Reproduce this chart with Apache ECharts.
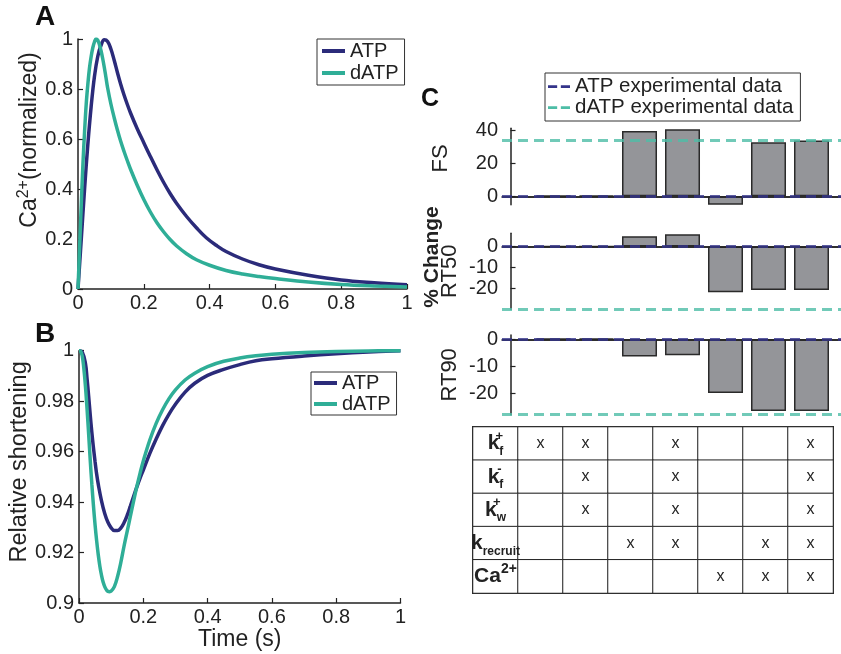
<!DOCTYPE html>
<html><head><meta charset="utf-8">
<script src="https://cdn.jsdelivr.net/npm/echarts@6/dist/echarts.min.js"></script>
<style>html,body{margin:0;padding:0;background:#fff}#c{width:841px;height:654px}</style>
</head><body><div id="c"></div>
<script>
// ---------------- data ----------------
// Panel A: normalized Ca2+ transients
const caTimeATP = [0, 0.005, 0.01, 0.02, 0.03, 0.04, 0.05, 0.06, 0.07, 0.08, 0.09, 0.1, 0.11, 0.12, 0.13, 0.14, 0.15, 0.16, 0.18, 0.2, 0.22, 0.24, 0.26, 0.28, 0.3, 0.33, 0.36, 0.39, 0.42, 0.45, 0.5, 0.55, 0.6, 0.7, 0.8, 0.9, 1.0];
const caATP     = [0, 0.1, 0.2, 0.4, 0.58, 0.73, 0.85, 0.93, 0.975, 0.997, 0.99, 0.96, 0.915, 0.865, 0.818, 0.776, 0.738, 0.703, 0.641, 0.585, 0.53, 0.477, 0.427, 0.382, 0.342, 0.29, 0.245, 0.205, 0.175, 0.15, 0.12, 0.097, 0.08, 0.055, 0.036, 0.025, 0.017];
const caTimeDATP = [0, 0.005, 0.01, 0.015, 0.02, 0.025, 0.03, 0.035, 0.04, 0.045, 0.05, 0.055, 0.06, 0.065, 0.07, 0.075, 0.08, 0.085, 0.09, 0.1, 0.11, 0.12, 0.13, 0.14, 0.15, 0.16, 0.18, 0.2, 0.22, 0.24, 0.26, 0.28, 0.3, 0.33, 0.36, 0.4, 0.45, 0.5, 0.55, 0.6, 0.7, 0.8, 0.9, 1.0];
const caDATP     = [0, 0.17, 0.34, 0.5, 0.63, 0.74, 0.82, 0.885, 0.93, 0.965, 0.988, 1.0, 0.995, 0.978, 0.953, 0.922, 0.886, 0.846, 0.805, 0.74, 0.685, 0.635, 0.59, 0.55, 0.513, 0.478, 0.415, 0.358, 0.308, 0.265, 0.229, 0.198, 0.172, 0.141, 0.117, 0.095, 0.074, 0.06, 0.05, 0.042, 0.028, 0.018, 0.012, 0.008];
// Panel B: relative shortening
const slTimeATP = [0, 0.01, 0.02, 0.025, 0.03, 0.035, 0.04, 0.045, 0.05, 0.055, 0.06, 0.07, 0.08, 0.09, 0.1, 0.11, 0.12, 0.13, 0.14, 0.15, 0.16, 0.17, 0.18, 0.19, 0.2, 0.22, 0.24, 0.26, 0.28, 0.3, 0.33, 0.36, 0.4, 0.45, 0.5, 0.55, 0.6, 0.7, 0.8, 0.9, 1.0];
const slATP     = [1.0, 0.9995, 0.995, 0.989, 0.982, 0.9745, 0.9675, 0.9615, 0.956, 0.951, 0.947, 0.9405, 0.9355, 0.932, 0.9298, 0.9287, 0.9287, 0.9297, 0.9318, 0.9348, 0.9385, 0.9423, 0.946, 0.9495, 0.9527, 0.9592, 0.965, 0.9703, 0.9749, 0.9788, 0.9836, 0.9871, 0.9902, 0.9926, 0.9945, 0.996, 0.9968, 0.9979, 0.9988, 0.9995, 1.0];
const slTimeDATP = [0, 0.005, 0.01, 0.015, 0.02, 0.025, 0.03, 0.035, 0.04, 0.045, 0.05, 0.055, 0.06, 0.065, 0.07, 0.075, 0.08, 0.085, 0.09, 0.095, 0.1, 0.11, 0.12, 0.13, 0.14, 0.15, 0.16, 0.17, 0.18, 0.19, 0.2, 0.22, 0.24, 0.26, 0.28, 0.3, 0.33, 0.36, 0.4, 0.45, 0.5, 0.55, 0.6, 0.7, 0.8, 0.9, 1.0];
const slDATP     = [1.0, 0.9998, 0.998, 0.993, 0.986, 0.977, 0.967, 0.9565, 0.947, 0.9385, 0.931, 0.9245, 0.919, 0.9145, 0.911, 0.9083, 0.9065, 0.9053, 0.9046, 0.9045, 0.9047, 0.9065, 0.9105, 0.916, 0.9225, 0.9285, 0.9345, 0.9405, 0.9462, 0.9515, 0.9563, 0.9645, 0.9712, 0.9766, 0.981, 0.9845, 0.9884, 0.9911, 0.9937, 0.9958, 0.9971, 0.998, 0.9986, 0.9993, 0.9997, 0.9999, 1.0];
const ticksAB_x = [0, 0.2, 0.4, 0.6, 0.8, 1];
const ticksB_y = [0.9, 0.92, 0.94, 0.96, 0.98, 1];
// Panel C: % change
const barPositions = [1, 2, 3, 4, 5, 6, 7];
const fsChange   = [0.5, 0.5, 39.8, 40.8, -5.1, 32.9, 33.9];
const rt50Change = [0, 0, 4.9, 5.9, -21.7, -20.6, -20.6];
const rt90Change = [0.3, 0.3, -6.4, -5.9, -19.9, -26.5, -26.5];
const expATP  = [0, 0, 0];          // FS, RT50, RT90
const expDATP = [34.1, -29.8, -27.9];
const ticksFS = [0, 20, 40];
const ticksRT = [-20, -10, 0];
// Table
const paramBase = ['k', 'k', 'k', 'k', 'Ca'];
const paramSub  = ['f', 'f', 'w', 'recruit', ''];
const paramSup  = ['+', '-', '+', '', '2+'];
const paramUsed = [
  [1, 1, 0, 1, 0, 0, 1],
  [0, 1, 0, 1, 0, 0, 1],
  [0, 1, 0, 1, 0, 0, 1],
  [0, 0, 1, 1, 0, 1, 1],
  [0, 0, 0, 0, 1, 1, 1]
];

// ---------------- styling ----------------
const FONT = 'Liberation Sans, Arial, Helvetica, sans-serif';
const INK = '#222222';
const C_ATP = '#2b2b7a';
const C_DATP = '#2fae97';
const zip = (a, b) => a.map((v, i) => [v, b[i]]);

const axisLineS = { show: true, lineStyle: { color: INK, width: 1.5 } };
const tickS = (vals) => ({ show: true, inside: true, length: 5, lineStyle: { color: INK, width: 1.2 }, customValues: vals });
const labelS = (vals, margin) => ({ show: true, fontSize: 20, color: INK, fontFamily: FONT, margin: margin, customValues: vals });

const cX = { type: 'value', min: -0.198, max: 7.686, axisLine: axisLineS, axisTick: { show: false }, axisLabel: { show: false }, splitLine: { show: false } };

function barSeries(idx, vals) {
  return {
    type: 'bar', xAxisIndex: idx, yAxisIndex: idx, data: zip(barPositions, vals), barWidth: 35,
    itemStyle: { color: '#949599', borderColor: '#2a2a2a', borderWidth: 1.5 },
    emphasis: { disabled: true }, z: 2,
    markLine: { symbol: 'none', silent: true, animation: false, label: { show: false },
      lineStyle: { color: INK, type: 'solid', width: 1.5 }, data: [{ yAxis: 0 }] }
  };
}
function expSeries(name, idx, val, color) {
  return {
    type: 'line', name: name, xAxisIndex: idx, yAxisIndex: idx, data: [], symbol: 'none',
    lineStyle: { color: color, type: [10, 6], width: 3 }, itemStyle: { color: color }, z: 5,
    markLine: { symbol: 'none', silent: true, animation: false, label: { show: false }, z: 6,
      lineStyle: { color: color, type: [10, 6], width: 3, opacity: 0.8 }, data: [{ yAxis: val }] }
  };
}
function curve(name, idx, t, v, color, z) {
  return { type: 'line', name: name, xAxisIndex: idx, yAxisIndex: idx, data: zip(t, v), smooth: 0.4, symbol: 'none',
    lineStyle: { width: 3.5, color: color }, itemStyle: { color: color }, z: z };
}

const heatData = [];
for (let r = 0; r < paramBase.length; r++) for (let c = 0; c < 8; c++) heatData.push([c, r, 0]);

const legendText = { fontSize: 20, color: INK, fontFamily: FONT };
const dashIcon = 'path://M0,0h10v3h-10z M14,0h10v3h-10z';

const option = {
  animation: false,
  backgroundColor: '#ffffff',
  textStyle: { fontFamily: FONT },
  title: [
    { text: 'A', left: 35, top: 3, padding: 0, textStyle: { fontSize: 28, fontWeight: 'bold', color: '#111', fontFamily: FONT } },
    { text: 'B', left: 35, top: 320, padding: 0, textStyle: { fontSize: 28, fontWeight: 'bold', color: '#111', fontFamily: FONT } },
    { text: 'C', left: 421, top: 87, padding: 0, textStyle: { fontSize: 25, fontWeight: 'bold', color: '#111', fontFamily: FONT } }
  ],
  legend: [
    { data: ['ATP', 'dATP'], orient: 'vertical', left: 317, top: 39, padding: [2, 6, 2, 5], itemGap: 2,
      icon: 'rect', itemWidth: 23, itemHeight: 4, borderColor: '#333', borderWidth: 1, selectedMode: false,
      textStyle: Object.assign({ lineHeight: 20 }, legendText) },
    { data: ['ATP', 'dATP'], orient: 'vertical', left: 311, top: 372, padding: [1, 6, 1, 3], itemGap: 1,
      icon: 'rect', itemWidth: 23, itemHeight: 4, borderColor: '#333', borderWidth: 1, selectedMode: false,
      textStyle: Object.assign({ lineHeight: 20 }, legendText) },
    { data: ['ATP experimental data', 'dATP experimental data'], orient: 'vertical', left: 545, top: 73,
      padding: [3, 7, 3, 3], itemGap: 0, icon: dashIcon, itemWidth: 22, itemHeight: 3, borderColor: '#333', borderWidth: 1,
      selectedMode: false, textStyle: { fontSize: 20.5, color: INK, fontFamily: FONT, lineHeight: 20 } }
  ],
  grid: [
    { left: 78, top: 39, width: 329, height: 250, outerBoundsMode: 'none' },
    { left: 79, top: 350.7, width: 321.5, height: 252.3, outerBoundsMode: 'none' },
    { left: 502, top: 128.3, right: 0, height: 76.4, outerBoundsMode: 'none' },
    { left: 502, top: 233.3, right: 0, height: 76, outerBoundsMode: 'none' },
    { left: 502, top: 335, right: 0, height: 79.7, outerBoundsMode: 'none' },
    { left: 473, top: 427, width: 360, height: 166, show: true, borderColor: INK, borderWidth: 2, backgroundColor: '#fff', outerBoundsMode: 'none' }
  ],
  xAxis: [
    { gridIndex: 0, type: 'value', min: 0, max: 1, axisLine: axisLineS, axisTick: tickS(ticksAB_x), axisLabel: labelS(ticksAB_x, 4), splitLine: { show: false } },
    { gridIndex: 1, type: 'value', min: 0, max: 1, axisLine: axisLineS, axisTick: tickS(ticksAB_x), axisLabel: labelS(ticksAB_x, 4), splitLine: { show: false },
      name: 'Time (s)', nameLocation: 'middle', nameGap: 21, nameTextStyle: { fontSize: 23, color: INK, fontFamily: FONT } },
    Object.assign({ gridIndex: 2 }, cX),
    Object.assign({ gridIndex: 3 }, cX),
    Object.assign({ gridIndex: 4 }, cX),
    { gridIndex: 5, type: 'category', data: [0, 1, 2, 3, 4, 5, 6, 7], show: false }
  ],
  yAxis: [
    { gridIndex: 0, type: 'value', min: 0, max: 1, axisLine: axisLineS, axisTick: tickS(ticksAB_x), axisLabel: labelS(ticksAB_x, 5), splitLine: { show: false },
      name: '{n|Ca}{s|2+}{n|(normalized)}', nameLocation: 'middle', nameGap: 34,
      nameTextStyle: { fontSize: 23, color: INK, fontFamily: FONT, padding: [0, 0, 0, 48],
        rich: { n: { fontSize: 23, color: INK, fontFamily: FONT, lineHeight: 28 }, s: { fontSize: 16, color: INK, fontFamily: FONT, verticalAlign: 'top', lineHeight: 14 } } } },
    { gridIndex: 1, type: 'value', min: 0.9, max: 1, axisLine: axisLineS, axisTick: tickS(ticksB_y), axisLabel: labelS(ticksB_y, 5), splitLine: { show: false },
      name: 'Relative shortening', nameLocation: 'middle', nameGap: 43,
      nameTextStyle: { fontSize: 23.5, color: INK, fontFamily: FONT, padding: [0, 0, 0, 30] } },
    { gridIndex: 2, type: 'value', min: -5.1, max: 41.4, axisLine: axisLineS, axisTick: tickS(ticksFS), axisLabel: labelS(ticksFS, 4), splitLine: { show: false },
      name: 'FS', nameLocation: 'middle', nameGap: 50, nameTextStyle: { fontSize: 22, color: INK, fontFamily: FONT, padding: [0, 0, 0, 16] } },
    { gridIndex: 3, type: 'value', min: -29.8, max: 6.3, axisLine: axisLineS, axisTick: tickS(ticksRT), axisLabel: labelS(ticksRT, 4), splitLine: { show: false },
      name: 'RT50', nameLocation: 'middle', nameGap: 41, nameTextStyle: { fontSize: 22, color: INK, fontFamily: FONT } },
    { gridIndex: 4, type: 'value', min: -27.9, max: 1.6, axisLine: axisLineS, axisTick: tickS(ticksRT), axisLabel: labelS(ticksRT, 4), splitLine: { show: false },
      name: 'RT90', nameLocation: 'middle', nameGap: 41, nameTextStyle: { fontSize: 22, color: INK, fontFamily: FONT } },
    { gridIndex: 5, type: 'category', data: [0, 1, 2, 3, 4], inverse: true, show: false }
  ],
  graphic: [
    { type: 'text', x: 432, y: 257, rotation: Math.PI / 2, z: 10,
      style: { text: '% Change', font: 'bold 21px ' + FONT, fill: INK, align: 'center', verticalAlign: 'middle' } }
  ],
  series: [
    curve('ATP', 0, caTimeATP, caATP, C_ATP, 3),
    curve('dATP', 0, caTimeDATP, caDATP, C_DATP, 4),
    curve('ATP', 1, slTimeATP, slATP, C_ATP, 3),
    curve('dATP', 1, slTimeDATP, slDATP, C_DATP, 4),
    barSeries(2, fsChange),
    barSeries(3, rt50Change),
    barSeries(4, rt90Change),
    expSeries('ATP experimental data', 2, expATP[0], '#34348a'),
    expSeries('dATP experimental data', 2, expDATP[0], '#4dbda6'),
    expSeries('ATP experimental data', 3, expATP[1], '#34348a'),
    expSeries('dATP experimental data', 3, expDATP[1], '#4dbda6'),
    expSeries('ATP experimental data', 4, expATP[2], '#34348a'),
    expSeries('dATP experimental data', 4, expDATP[2], '#4dbda6'),
    { type: 'heatmap', xAxisIndex: 5, yAxisIndex: 5, data: heatData, emphasis: { disabled: true },
      itemStyle: { color: '#ffffff', borderColor: INK, borderWidth: 1 },
      label: { show: true, color: INK, fontFamily: FONT, fontSize: 16,
        formatter: function (p) {
          const c = p.value[0], r = p.value[1];
          if (c === 0) {
            let s = '{b|' + paramBase[r] + '}';
            if (paramSub[r] && paramSup[r]) s += '{p0|' + paramSup[r] + '}{s|' + paramSub[r] + '}';
            else if (paramSub[r]) s += '{s|' + paramSub[r] + '}';
            else if (paramSup[r]) s += '{p|' + paramSup[r] + '}';
            return s;
          }
          return paramUsed[r][c - 1] ? 'x' : '';
        },
        rich: {
          b: { fontSize: 21, fontWeight: 'bold', color: INK, fontFamily: FONT, lineHeight: 28 },
          s: { fontSize: 12, fontWeight: 'bold', color: INK, fontFamily: FONT, verticalAlign: 'bottom', lineHeight: 14 },
          p: { fontSize: 14, fontWeight: 'bold', color: INK, fontFamily: FONT, verticalAlign: 'top', lineHeight: 14 },
          p0: { fontSize: 13, fontWeight: 'bold', color: INK, fontFamily: FONT, verticalAlign: 'top', lineHeight: 14, width: 0 }
        } } }
  ]
};

const chart = echarts.init(document.getElementById('c'), null, { renderer: 'canvas' });
chart.setOption(option);
</script></body></html>
